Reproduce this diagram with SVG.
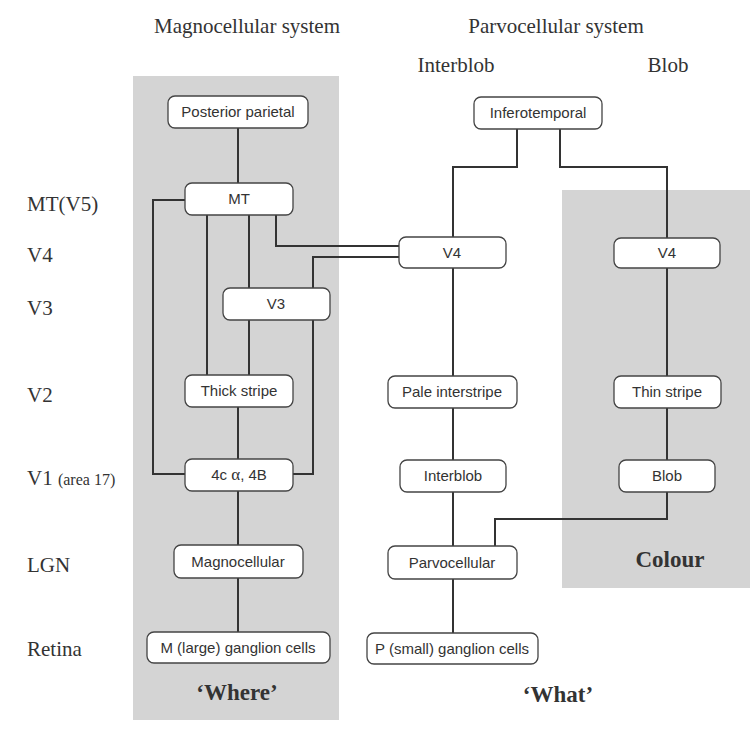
<svg xmlns="http://www.w3.org/2000/svg" width="750" height="733" viewBox="0 0 750 733">
<style>
.panel{fill:#d4d4d4}
.box{fill:#fff;stroke:#444;stroke-width:1.3}
.lbl{font-family:"Liberation Sans",Arial,sans-serif;font-size:15px;fill:#333;text-anchor:middle}
.hdr{font-family:"Liberation Serif","Times New Roman",serif;font-size:21px;fill:#333}
.big{font-family:"Liberation Serif","Times New Roman",serif;font-size:23px;font-weight:bold;fill:#333;text-anchor:middle}
.ln{fill:none;stroke:#333;stroke-width:2}
</style>
<rect width="750" height="733" fill="#fff"/>
<g id="panels">
<rect class="panel" x="133" y="76" width="206" height="644"/>
<rect class="panel" x="562" y="190" width="188" height="398"/>
</g>
<g id="headers">
<text class="hdr" x="247" y="33" text-anchor="middle">Magnocellular system</text>
<text class="hdr" x="556" y="33" text-anchor="middle">Parvocellular system</text>
<text class="hdr" x="456" y="72" text-anchor="middle">Interblob</text>
<text class="hdr" x="668" y="72" text-anchor="middle">Blob</text>
<text class="hdr" x="27" y="211">MT(V5)</text>
<text class="hdr" x="27" y="262">V4</text>
<text class="hdr" x="27" y="315">V3</text>
<text class="hdr" x="27" y="402">V2</text>
<text class="hdr" x="27" y="485">V1 <tspan font-size="16">(area 17)</tspan></text>
<text class="hdr" x="27" y="572">LGN</text>
<text class="hdr" x="27" y="656">Retina</text>
<text class="big" x="237" y="700">‘Where’</text>
<text class="big" x="558" y="702">‘What’</text>
<text class="big" x="670" y="567">Colour</text>
</g>
<g id="connectors">
<path class="ln" d="M238 128V183"/>
<path class="ln" d="M185 200H153V474H185"/>
<path class="ln" d="M207 215V375"/>
<path class="ln" d="M249 215V288M249 320V375"/>
<path class="ln" d="M276 215V246H399"/>
<path class="ln" d="M313 288V257H399"/>
<path class="ln" d="M313 320V474H293"/>
<path class="ln" d="M238 407V459M238 491V545M238 578V632"/>
<path class="ln" d="M517 129V167H453V237"/>
<path class="ln" d="M560 129V167H667V238"/>
<path class="ln" d="M453 268V376M453 408V460M453 492V546M453 579V633"/>
<path class="ln" d="M667 268V376M667 408V460"/>
<path class="ln" d="M667 492V519H495V546"/>
</g>
<g id="n-pp"><rect class="box" x="168" y="96" width="140" height="32" rx="7"/><text class="lbl" x="238" y="117">Posterior parietal</text></g>
<g id="n-mt"><rect class="box" x="185" y="183" width="108" height="32" rx="7"/><text class="lbl" x="239" y="204">MT</text></g>
<g id="n-v3"><rect class="box" x="223" y="288" width="107" height="32" rx="7"/><text class="lbl" x="276" y="309">V3</text></g>
<g id="n-thick"><rect class="box" x="185" y="375" width="108" height="32" rx="7"/><text class="lbl" x="239" y="396">Thick stripe</text></g>
<g id="n-4ca"><rect class="box" x="185" y="459" width="108" height="32" rx="7"/><text class="lbl" x="239" y="480">4c<tspan font-family="'Liberation Serif',serif" font-size="17"> α</tspan>, 4B</text></g>
<g id="n-magno"><rect class="box" x="174" y="545" width="129" height="33" rx="7"/><text class="lbl" x="238" y="567">Magnocellular</text></g>
<g id="n-mgang"><rect class="box" x="147" y="632" width="183" height="31" rx="7"/><text class="lbl" x="238" y="653">M (large) ganglion cells</text></g>
<g id="n-infero"><rect class="box" x="474" y="97" width="128" height="32" rx="7"/><text class="lbl" x="538" y="118">Inferotemporal</text></g>
<g id="n-v4a"><rect class="box" x="399" y="237" width="107" height="31" rx="7"/><text class="lbl" x="452" y="258">V4</text></g>
<g id="n-pale"><rect class="box" x="388" y="376" width="129" height="32" rx="7"/><text class="lbl" x="452" y="397">Pale interstripe</text></g>
<g id="n-interblob"><rect class="box" x="400" y="460" width="106" height="32" rx="7"/><text class="lbl" x="453" y="481">Interblob</text></g>
<g id="n-parvo"><rect class="box" x="388" y="546" width="129" height="33" rx="7"/><text class="lbl" x="452" y="568">Parvocellular</text></g>
<g id="n-pgang"><rect class="box" x="367" y="633" width="171" height="31" rx="7"/><text class="lbl" x="452" y="654">P (small) ganglion cells</text></g>
<g id="n-v4b"><rect class="box" x="614" y="238" width="106" height="30" rx="7"/><text class="lbl" x="667" y="258">V4</text></g>
<g id="n-thin"><rect class="box" x="614" y="376" width="107" height="32" rx="7"/><text class="lbl" x="667" y="397">Thin stripe</text></g>
<g id="n-blob"><rect class="box" x="619" y="460" width="96" height="32" rx="7"/><text class="lbl" x="667" y="481">Blob</text></g>
</svg>
